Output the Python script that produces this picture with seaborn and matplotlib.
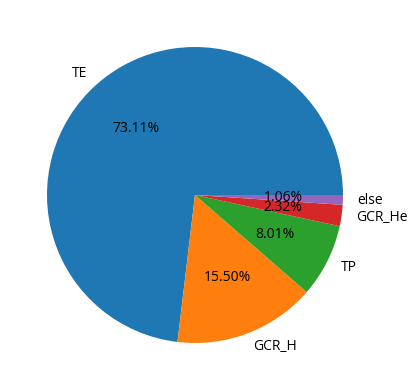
import matplotlib
matplotlib.use("Agg")
import matplotlib.pyplot as plt
import seaborn as sns

labels = ["TE", "GCR_H", "TP", "GCR_He", "else"]
shares = [73.11, 15.50, 8.01, 2.32, 1.06]

plt.rcParams['font.family'] = ['Open Sans', 'DejaVu Sans']
plt.rcParams['font.size'] = 10

col = sns.color_palette("tab10", len(labels))

fig = plt.figure(figsize=(4.19, 3.89), dpi=100)
ax = fig.add_axes([10 / 419, 9 / 389, 370 / 419, 370 / 389])
ax.pie(shares, labels=labels, colors=col, autopct="%1.2f%%")

fig.savefig("out.png", dpi=100)
